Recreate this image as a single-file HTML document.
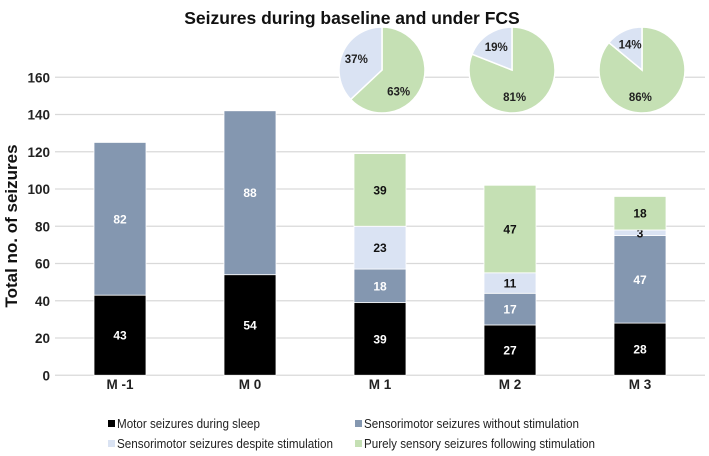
<!DOCTYPE html>
<html><head><meta charset="utf-8"><style>
html,body{margin:0;padding:0;background:#fff}
svg{display:block;font-family:"Liberation Sans",Arial,sans-serif}
</style></head><body>
<svg id="c" width="709" height="456" viewBox="0 0 709 456">
<text x="352" y="24" text-anchor="middle" font-size="17.5" font-weight="bold" fill="#111">Seizures during baseline and under FCS</text>
<text transform="translate(17,226) rotate(-90)" text-anchor="middle" font-size="17" font-weight="bold" fill="#111">Total no. of seizures</text>
<g id="grid"></g><g id="bars"></g><g id="pies"></g><g id="legend"></g>
</svg>
<script>
const categories = ["M -1","M 0","M 1","M 2","M 3"];
const motorSleep = [43,54,39,27,28];
const smWithout = [82,88,18,17,47];
const smDespite = [0,0,23,11,3];
const sensoryFollowing = [0,0,39,47,18];
const yTicks = [0,20,40,60,80,100,120,140,160];
const pieCats = ["M 1","M 2","M 3"];
const pieSensory = [63,81,86];
const pieDespite = [37,19,14];
const seriesNames = ["Motor seizures during sleep","Sensorimotor seizures without stimulation","Sensorimotor seizures despite stimulation","Purely sensory seizures following stimulation"];
const colors = ["#000000","#8497b0","#dae3f3","#c5e0b4"];
const NS="http://www.w3.org/2000/svg";
const L=55,R=705,Y0=375.25,PX=1.8625;
const bw=(R-L)/categories.length;
const y=v=>Y0-v*PX;
const xc=i=>L+bw*(i+0.5);
function mk(t,a,p){const e=document.createElementNS(NS,t);for(const k in a)e.setAttribute(k,a[k]);p.appendChild(e);return e;}
const grid=document.getElementById('grid');
yTicks.forEach(t=>{
  const l=mk('line',{x1:L,x2:R,y1:y(t),y2:y(t),stroke:'#d9d9d9','stroke-width':1.2},grid);
  
  
  const tx=mk('text',{x:50,y:y(t)+5,'text-anchor':'end','font-size':13.5,'font-weight':'bold',fill:'#222'},grid);
  tx.textContent=t;
  
  
});
const bars=document.getElementById('bars');
const series=[motorSleep,smWithout,smDespite,sensoryFollowing];
const labelCol=["#fff","#fff","#111","#111"];
categories.forEach((c,i)=>{
  let base=0;const w=52,x=xc(i)-w/2;
  series.forEach((s,k)=>{
    const v=s[i];if(!v)return;
    const r=mk('rect',{x:x,y:y(base+v),width:w,height:v*PX,fill:colors[k],stroke:'#fff','stroke-width':0.8},bars);
    
    
    const t=mk('text',{x:xc(i),y:y(base+v/2)+4.5,'text-anchor':'middle','font-size':12,'font-weight':'bold',fill:labelCol[k]},bars);
    t.textContent=v;
    
    
    base+=v;
  });
  const ct=mk('text',{x:xc(i),y:389,'text-anchor':'middle','font-size':13.5,'font-weight':'bold',fill:'#222'},bars);
  ct.textContent=c;
  
  
});
const pies=document.getElementById('pies');
pieCats.forEach((c,j)=>{
  const i=categories.indexOf(c),cx=xc(i)+2,cy=70,r=43;
  const tot=pieSensory[j]+pieDespite[j];
  const a=pieSensory[j]/tot*2*Math.PI;
  const pt=ang=>[cx+r*Math.sin(ang),cy-r*Math.cos(ang)];
  const p1=pt(0),p2=pt(a);
  const large=a>Math.PI?1:0;
  const g=mk('path',{d:`M${cx},${cy}L${p1[0]},${p1[1]}A${r},${r} 0 ${large} 1 ${p2[0]},${p2[1]}Z`,fill:colors[3],stroke:'#fff','stroke-width':1.5},pies);
  
  
  const b=mk('path',{d:`M${cx},${cy}L${p2[0]},${p2[1]}A${r},${r} 0 ${1-large} 1 ${p1[0]},${p1[1]}Z`,fill:colors[2],stroke:'#fff','stroke-width':1.5},pies);
  
  
  const lab=(ang,val,rr)=>{const t=mk('text',{x:cx+rr*Math.sin(ang),y:cy-rr*Math.cos(ang)+4,'text-anchor':'middle','font-size':11.5,'font-weight':'bold',fill:'#222'},pies);t.textContent=val+'%';
    
    };
  lab(a/2+0.5,pieSensory[j],27);
  lab(a+(2*Math.PI-a)/2,pieDespite[j],28);
});
const lg=document.getElementById('legend');
const pos=[[108,424,143],[355,424,215],[108,444,216],[355,444,231]];
seriesNames.forEach((n,k)=>{
  const [x,yy,w]=pos[k];
  const m=mk('rect',{x:x,y:yy-4,width:7,height:7,fill:colors[k]},lg);
  
  
  const t=mk('text',{x:x+9,y:yy+4,'font-size':13,fill:'#222',textLength:w,lengthAdjust:'spacingAndGlyphs'},lg);
  t.textContent=n;
  
  
});
</script>
</body></html>
